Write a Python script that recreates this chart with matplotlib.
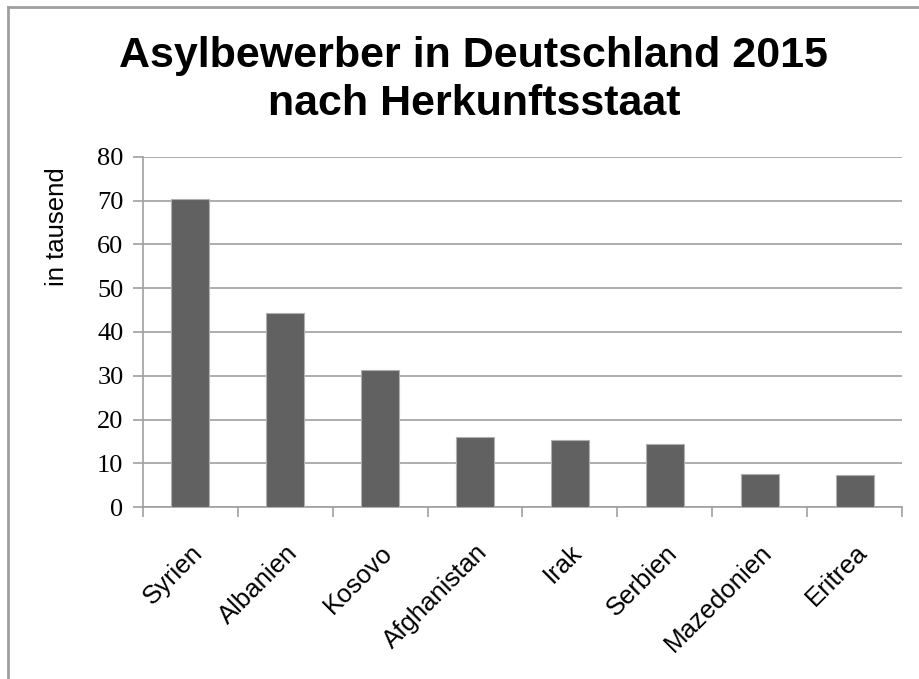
import matplotlib
matplotlib.use("Agg")
import matplotlib.pyplot as plt
from matplotlib.lines import Line2D
import numpy as np

# Asylbewerber 2015 nach Herkunftsstaat (in tausend)
countries = ["Syrien", "Albanien", "Kosovo", "Afghanistan", "Irak",
             "Serbien", "Mazedonien", "Eritrea"]
values = [70.4, 44.3, 31.3, 16.1, 15.3, 14.4, 7.5, 7.4]
y_ticks = [0, 10, 20, 30, 40, 50, 60, 70, 80]

grey = "#a0a0a0"
bar_color = "#616161"

fig = plt.figure(figsize=(9.2, 6.79), dpi=100)
ax = fig.add_axes([0.1554, 0.2533, 0.825, 0.5155])

x = np.arange(len(countries))
ax.bar(x, values, width=0.4, color=bar_color, edgecolor="#b0b0b0",
       linewidth=0.8, zorder=3)

ax.set_xlim(-0.5, len(countries) - 0.5)
ax.set_ylim(0, 80)
ax.set_yticks(y_ticks)
ax.set_yticklabels([str(v) for v in y_ticks], family="Liberation Serif",
                   fontsize=19)
ax.yaxis.grid(True, color=grey, linewidth=1.2, zorder=0)
ax.set_axisbelow(True)

# category labels at centres, tick marks at the boundaries
ax.set_xticks(x)
ax.set_xticklabels(countries, rotation=45, ha="right", va="top",
                   rotation_mode="anchor", family="Liberation Sans",
                   fontsize=18.5)
ax.set_xticks(np.arange(-0.5, len(countries)), minor=True)
ax.tick_params(axis="x", which="major", length=0, pad=24)
ax.tick_params(axis="x", which="minor", length=7, color=grey, width=1.2)
ax.tick_params(axis="y", length=7, color=grey, width=1.2, pad=7)

for side in ["top", "right"]:
    ax.spines[side].set_visible(False)
for side in ["left", "bottom"]:
    ax.spines[side].set_color(grey)
    ax.spines[side].set_linewidth(1.2)

ax.set_ylabel("in tausend", family="Liberation Sans", fontsize=18.5)
ax.yaxis.set_label_coords(-0.097, 0.8)

fig.text(0.515, 0.882, "Asylbewerber in Deutschland 2015\nnach Herkunftsstaat",
         ha="center", va="center", family="Liberation Sans",
         fontweight="bold", fontsize=31, linespacing=1.26)

# chart frame (only top and left edge visible)
fig.add_artist(Line2D([0.009, 1.0], [0.9897, 0.9897], color=grey,
                      linewidth=2, transform=fig.transFigure))
fig.add_artist(Line2D([0.009, 0.009], [0.0, 0.9897], color=grey,
                      linewidth=2, transform=fig.transFigure))

fig.savefig("out.png", dpi=100)
